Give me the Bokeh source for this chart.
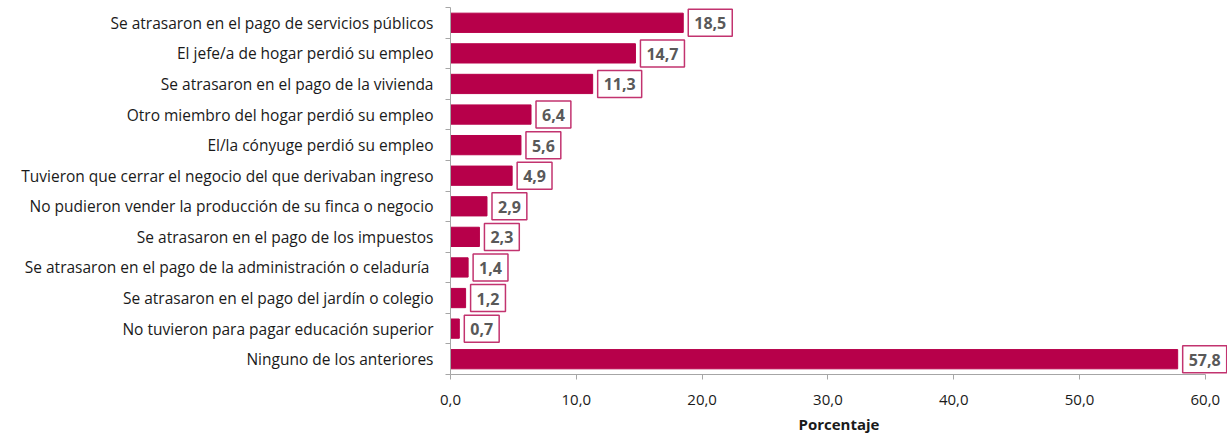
from bokeh.plotting import figure
from bokeh.models import ColumnDataSource, Range1d, FixedTicker
from bokeh.core.properties import value
from bokeh.embed import file_html
from bokeh.resources import INLINE

categories = [
    "Se atrasaron en el pago de servicios públicos",
    "El jefe/a de hogar perdió su empleo",
    "Se atrasaron en el pago de la vivienda",
    "Otro miembro del hogar perdió su empleo",
    "El/la cónyuge perdió su empleo",
    "Tuvieron que cerrar el negocio del que derivaban ingreso",
    "No pudieron vender la producción de su finca o negocio",
    "Se atrasaron en el pago de los impuestos",
    "Se atrasaron en el pago de la  administración o celaduría",
    "Se atrasaron en el pago del jardín o colegio",
    "No tuvieron para pagar educación superior",
    "Ninguno de los anteriores",
]
values = [18.5, 14.7, 11.3, 6.4, 5.6, 4.9, 2.9, 2.3, 1.4, 1.2, 0.7, 57.8]
x_ticks = [0, 10, 20, 30, 40, 50, 60]
x_tick_labels = ["0,0", "10,0", "20,0", "30,0", "40,0", "50,0", "60,0"]

BAR = "#B7004A"
FONT = "Open Sans"

idx = list(range(len(categories)))
src = ColumnDataSource(dict(
    y=idx,
    v=values,
    lab=[f"{v:.1f}".replace(".", ",") for v in values],
))

p = figure(width=1227, height=436, output_backend="svg", toolbar_location=None,
           x_range=Range1d(0, 61.76), y_range=Range1d(11.5, -0.5),
           min_border_left=450, min_border_right=0, min_border_top=7,
           min_border_bottom=62)
p.outline_line_color = None
p.xgrid.grid_line_color = None
p.ygrid.grid_line_color = None
p.background_fill_color = None
p.border_fill_color = "white"

p.hbar(y="y", right="v", left=0, height=0.63, source=src,
       fill_color=BAR, line_color=BAR)

p.text(x="v", y="y", text="lab", source=src,
       x_offset=5, anchor="center_left",
       text_align="left", text_baseline="middle",
       text_font=value(FONT), text_font_style="bold", text_font_size="16px",
       text_color="#595959",
       background_fill_color="white",
       border_line_color="#C2336F", border_line_width=1.5,
       padding=dict(left=6, right=6, top=8, bottom=7))

# x axis
xa = p.xaxis[0]
xa.bounds = (0, 60)
xa.ticker = FixedTicker(ticks=x_ticks, minor_ticks=[])
xa.major_label_overrides = {t: s for t, s in zip(x_ticks, x_tick_labels)}
xa.axis_line_color = "#A6A6A6"
xa.major_tick_line_color = "#A6A6A6"
xa.major_tick_in = 0
xa.major_tick_out = 5
xa.minor_tick_line_color = None
xa.major_label_standoff = 15
xa.major_label_text_font = FONT
xa.major_label_text_font_size = "15px"
xa.major_label_text_color = "#1a1a1a"
xa.axis_label = "Porcentaje"
xa.axis_label_text_font = FONT
xa.axis_label_text_font_style = "bold"
xa.axis_label_text_font_size = "15px"
xa.axis_label_text_color = "#1a1a1a"
xa.axis_label_standoff = 6

# y axis
ya = p.yaxis[0]
ya.ticker = FixedTicker(ticks=idx, minor_ticks=[i - 0.5 for i in idx] + [len(idx) - 0.5])
ya.major_label_overrides = {i: c for i, c in zip(idx, categories)}
ya.axis_line_color = "#A6A6A6"
ya.major_tick_line_color = None
ya.major_tick_in = 0
ya.major_tick_out = 0
ya.minor_tick_line_color = "#A6A6A6"
ya.minor_tick_in = 0
ya.minor_tick_out = 5
ya.major_label_standoff = 12
ya.major_label_text_font = FONT
ya.major_label_text_font_size = "15.5px"
ya.major_label_text_color = "#1a1a1a"

open("out.html", "w").write(file_html(p, INLINE))
